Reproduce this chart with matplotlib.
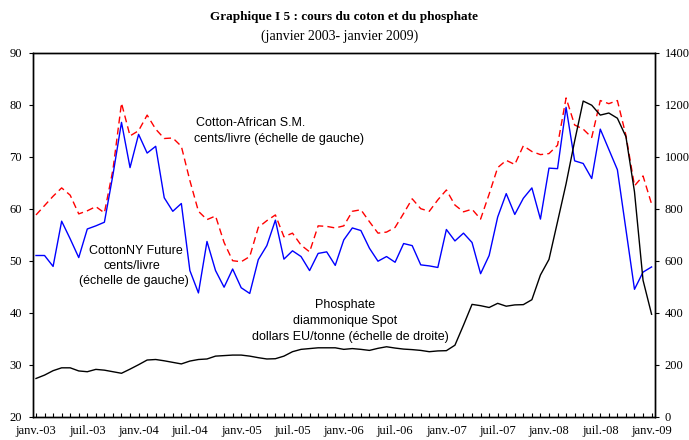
import matplotlib
matplotlib.use('Agg')
import matplotlib.pyplot as plt
import numpy as np

tick_labels = ['janv.-03', 'juil.-03', 'janv.-04', 'juil.-04', 'janv.-05', 'juil.-05',
               'janv.-06', 'juil.-06', 'janv.-07', 'juil.-07', 'janv.-08', 'juil.-08', 'janv.-09']

cotton_african = [58.8, 60.6, 62.4, 64.0, 62.6, 59.0, 59.6, 60.4, 59.2, 67.5, 80.3, 74.0,
                  75.0, 78.0, 75.3, 73.5, 73.6, 72.0, 65.4, 59.5, 57.9, 58.6, 53.5, 50.0,
                  49.8, 50.8, 56.4, 57.7, 58.8, 54.6, 55.3, 53.0, 51.7, 56.7, 56.6, 56.3,
                  56.7, 59.5, 59.8, 57.5, 55.3, 55.5, 56.4, 59.1, 61.9, 60.0, 59.5, 61.7,
                  63.6, 60.7, 59.4, 59.9, 58.0, 62.8, 67.9, 69.3, 68.5, 72.1, 71.0, 70.4,
                  70.6, 72.2, 81.3, 76.1, 75.3, 73.7, 80.8, 80.2, 80.8, 74.1, 64.4, 66.3,
                  60.9]

cotton_ny = [51.0, 51.0, 48.9, 57.6, 54.2, 50.6, 56.1, 56.7, 57.4, 66.5, 76.6, 67.9,
             74.3, 70.7, 72.0, 62.1, 59.5, 61.0, 48.1, 43.8, 53.7, 48.1, 44.9, 48.4,
             44.8, 43.7, 50.2, 52.9, 57.8, 50.3, 51.9, 50.8, 48.1, 51.4, 51.7, 49.1,
             54.0, 56.3, 55.8, 52.4, 49.9, 50.8, 49.7, 53.3, 52.9, 49.2, 49.0, 48.7,
             56.0, 53.8, 55.3, 53.5, 47.5, 51.0, 58.4, 62.9, 58.9, 62.0, 64.0, 58.0,
             67.8, 67.7, 79.5, 69.2, 68.7, 65.8, 75.3, 71.4, 67.5, 56.0, 44.5, 47.8,
             48.8]

phosphate = [147, 160, 177, 188, 188, 176, 173, 182, 179, 173, 167, 183,
             200, 218, 220, 215, 209, 203, 214, 220, 222, 233, 235, 237,
             237, 233, 227, 222, 223, 233, 250, 259, 262, 265, 265, 265,
             259, 262, 259, 255, 263, 269, 264, 260, 258, 255, 250, 253,
             254, 275, 352, 432, 427, 420, 436, 425, 430, 431, 450, 545,
             605, 750, 896, 1060, 1214, 1198, 1160, 1168, 1148, 1077, 865, 525,
             394]

W, H = 689, 440
fig = plt.figure(figsize=(W / 100, H / 100), dpi=100)
L, R, T, B = 33, 655, 52.7, 416.7
ax = fig.add_axes([L / W, 1 - B / H, (R - L) / W, (B - T) / H])
ax2 = ax.twinx()

x = np.arange(len(cotton_ny))
ax.plot(x, cotton_african, color='#FF0000', lw=1.0, dashes=(5, 3))
ax.plot(x, cotton_ny, color='#0000FF', lw=1.0)
ax2.plot(x, phosphate, color='black', lw=1.0)

ax.set_ylim(20, 90)
ax2.set_ylim(0, 1400)
ax.set_xlim(-0.35, 72.4)

serif = 'Liberation Serif'
sans = 'Liberation Sans'

ax.set_yticks(range(20, 91, 10))
ax2.set_yticks(range(0, 1401, 200))
ax.set_xticks(x)
labels = [''] * len(x)
for i, lab in enumerate(tick_labels):
    labels[i * 6] = lab
ax.set_xticklabels(labels, fontfamily=serif, fontsize=9)
ax.tick_params(axis='x', direction='in', length=3, width=0.8, pad=6)
ax.tick_params(axis='y', direction='out', length=3, width=0.8, pad=5)
ax2.tick_params(axis='y', direction='out', length=3, width=0.8, pad=4)
for lab in ax.get_yticklabels() + ax2.get_yticklabels():
    lab.set_fontfamily(serif)
    lab.set_fontsize(9)

for a in (ax, ax2):
    for s in a.spines.values():
        s.set_linewidth(1.0)
        s.set_color('black')

def ftext(px, py, s, **kw):
    fig.text(px / W, 1 - py / H, s, va='center', **kw)

ftext(344, 17, 'Graphique I 5 : cours du coton et du phosphate', ha='center',
      fontfamily=serif, fontweight='bold', fontsize=9.5)
ftext(340, 36, '(janvier 2003- janvier 2009)', ha='center', fontfamily=serif, fontsize=10)

ftext(196, 123, 'Cotton-African S.M.', ha='left', fontfamily=sans, fontsize=9)
ftext(194, 139, 'cents/livre (échelle de gauche)', ha='left', fontfamily=sans, fontsize=9)

ftext(136, 251, 'CottonNY Future', ha='center', fontfamily=sans, fontsize=9)
ftext(132, 266, 'cents/livre', ha='center', fontfamily=sans, fontsize=9)
ftext(134, 281, '(échelle de gauche)', ha='center', fontfamily=sans, fontsize=9)

ftext(345, 305, 'Phosphate', ha='center', fontfamily=sans, fontsize=9)
ftext(345, 321, 'diammonique Spot', ha='center', fontfamily=sans, fontsize=9)
ftext(350, 337, 'dollars EU/tonne (échelle de droite)', ha='center', fontfamily=sans, fontsize=9)

fig.savefig('out.png', dpi=100)
